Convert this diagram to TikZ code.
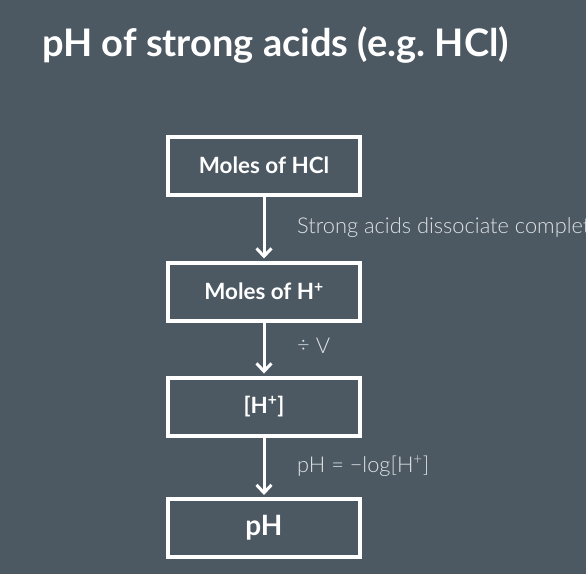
\documentclass[tikz,border=0pt]{standalone}
\usepackage{fontspec}
\setmainfont{Lato}
\newfontfamily\latolight{Lato Light}
\usepackage{tikz}
\usetikzlibrary{positioning}
\usetikzlibrary{arrows.meta}
\definecolor{slate}{RGB}{76,89,99}
\definecolor{labelgrey}{RGB}{222,226,229}
\frenchspacing
\tikzset{
  flowbox/.style={draw=white, line width=4pt, minimum width=192pt, minimum height=58pt,
    text=white, font=\bfseries\fontsize{22.4}{26}\selectfont},
  flowarrow/.style={draw=white, line width=3pt, -{Straight Barb[length=8pt,width=15pt]}},
  steplabel/.style={anchor=west, text=labelgrey, font=\latolight\fontsize{21.8}{26}\selectfont, inner sep=0pt}
}

\begin{document}
\begin{tikzpicture}[x=1pt,y=-1pt]

% ---------- Background ----------
\fill[slate] (0,0) rectangle (586,574);
\useasboundingbox (0,0) rectangle (586,574);
\clip (0,0) rectangle (586,574);

% ---------- Title ----------
\node[anchor=west, text=white, font=\bfseries\fontsize{38}{44}\selectfont, inner sep=0pt]
  (title) at (42,45) {pH of strong acids (e.g. HCl)};

% ---------- Boxes ----------
\node[flowbox] (molhcl) at (264,165.5) {Moles of HCl};
\node[flowbox] (molh)   at (264,291.5) {Moles of H\textsuperscript{+}};
\node[flowbox] (conc)   at (264,406.5) {[H\textsuperscript{+}]};
\node[flowbox, font=\bfseries\fontsize{28}{32}\selectfont] (ph) at (264,528) {pH};

% ---------- Arrows ----------
\draw[flowarrow] (molhcl.south) -- ([yshift=2pt]molh.north);
\draw[flowarrow] (molh.south)   -- ([yshift=2pt]conc.north);
\draw[flowarrow] (conc.south)   -- ([yshift=2pt]ph.north);

% ---------- Labels ----------
\node[steplabel] (dissoc) at (297,228) {Strong acids dissociate completely};
\node[steplabel] (divv)   at (297,346) {\raisebox{1pt}{÷} V};
\node[steplabel] (logeq)  at (297,466) {pH = −log[H\textsuperscript{+}]};

\end{tikzpicture}
\end{document}
